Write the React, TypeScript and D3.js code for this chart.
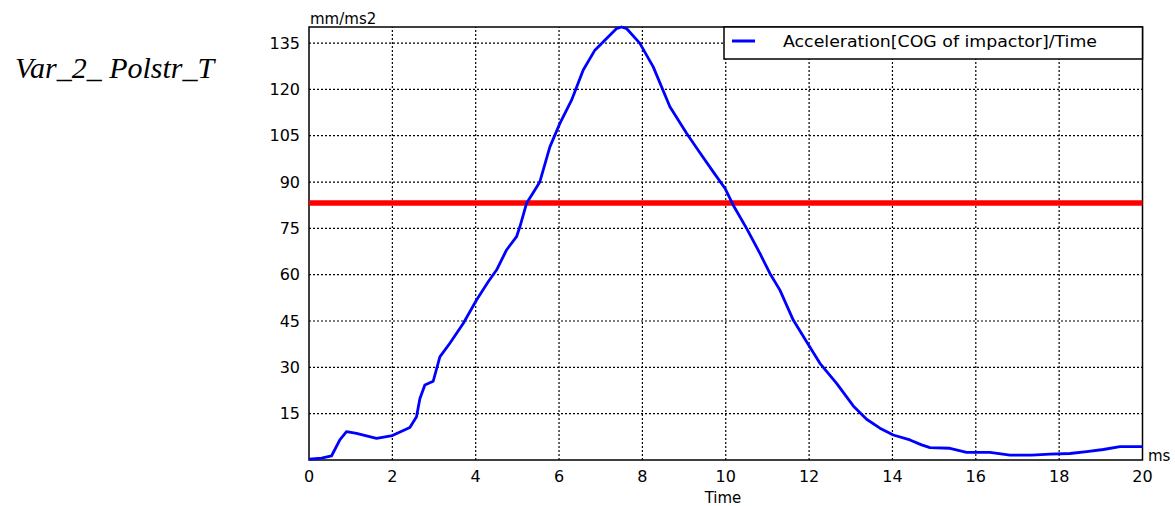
import React from "react";
import * as d3 from "d3";

const timeMs = [0, 0.3, 0.54, 0.74, 0.9, 1.14, 1.62, 2.0, 2.42, 2.58, 2.66, 2.78, 2.98, 3.14, 3.38, 3.7, 4.02, 4.3, 4.5, 4.74, 4.98, 5.06, 5.22, 5.42, 5.54, 5.78, 6.02, 6.3, 6.58, 6.86, 7.14, 7.38, 7.5, 7.62, 7.94, 8.26, 8.66, 9.06, 9.38, 9.7, 9.98, 10.18, 10.5, 10.82, 11.06, 11.3, 11.62, 11.94, 12.26, 12.66, 13.06, 13.38, 13.7, 14.02, 14.42, 14.7, 14.9, 15.38, 15.78, 16.34, 16.82, 17.34, 17.78, 18.26, 18.66, 19.06, 19.46, 20];
const acceleration = [0.3, 0.6, 1.3, 6.5, 9.2, 8.6, 7.0, 7.9, 10.5, 14, 19.8, 24.3, 25.5, 33.4, 37.8, 44.2, 51.8, 57.7, 61.5, 68, 72.3, 75.5, 83.1, 87.4, 90.1, 101.4, 109, 116.5, 126.3, 132.7, 136.5, 139.7, 140.2, 139.7, 134.9, 127.3, 114.4, 105.8, 99.5, 93.3, 88, 82.5, 75, 66.9, 60.4, 55, 45.3, 38.3, 31.3, 24.8, 17.5, 13.2, 10.3, 8.1, 6.5, 4.9, 4.0, 3.8, 2.5, 2.5, 1.6, 1.6, 1.9, 2.1, 2.7, 3.4, 4.3, 4.3];
const thresholdValue = [83.2];
const xTicks = [0, 2, 4, 6, 8, 10, 12, 14, 16, 18, 20];
const yTicks = [15, 30, 45, 60, 75, 90, 105, 120, 135];
const seriesName = "Acceleration[COG of impactor]/Time";
const titleText = "Var_2_ Polstr_T";

export default function App() {
  const x = d3.scaleLinear().domain([0, 20]).range([309, 1142.5]);
  const y = d3.scaleLinear().domain([0, 140.2]).range([460, 27]);
  const pts = timeMs.map((t, i) => [t, acceleration[i]] as [number, number]);
  const line = d3
    .line<[number, number]>()
    .x((d) => x(d[0]))
    .y((d) => y(d[1]));
  const font = "'DejaVu Sans', sans-serif";
  const [x0, x1] = x.range();
  const [yb, yt] = y.range();
  return (
    <svg
      width={1175}
      height={506}
      style={{ position: "absolute", left: 0, top: 0, background: "#fff" }}
    >
      <rect x={0} y={0} width={1175} height={506} fill="#fff" />
      <text
        x={15}
        y={78}
        fontFamily="'Liberation Serif', 'Times New Roman', serif"
        fontStyle="italic"
        fontSize={30}
        fill="#000"
      >
        {titleText}
      </text>
      {/* grid */}
      {xTicks.slice(1, -1).map((t) => (
        <line
          key={"gx" + t}
          x1={x(t)}
          x2={x(t)}
          y1={yb}
          y2={yt}
          stroke="#000"
          strokeWidth={1.2}
          strokeDasharray="2 2"
        />
      ))}
      {yTicks.map((v) => (
        <line
          key={"gy" + v}
          x1={x0}
          x2={x1}
          y1={y(v)}
          y2={y(v)}
          stroke="#000"
          strokeWidth={1.2}
          strokeDasharray="2 2"
        />
      ))}
      {/* frame */}
      <rect
        x={x0}
        y={yt}
        width={x1 - x0}
        height={yb - yt}
        fill="none"
        stroke="#000"
        strokeWidth={1.5}
      />
      {/* threshold */}
      {thresholdValue.map((v) => (
        <line
          key={"th" + v}
          x1={x0}
          x2={x1}
          y1={y(v)}
          y2={y(v)}
          stroke="#ff0000"
          strokeWidth={5.5}
        />
      ))}
      {/* curve */}
      <path d={line(pts) || ""} fill="none" stroke="#0000ff" strokeWidth={2.8} strokeLinejoin="round" />
      {/* y tick labels */}
      {yTicks.map((v) => (
        <text
          key={"yl" + v}
          x={300}
          y={y(v)}
          dy="0.36em"
          textAnchor="end"
          fontFamily={font}
          fontSize={16}
          fill="#000"
        >
          {v}
        </text>
      ))}
      {xTicks.map((t) => (
        <text
          key={"xl" + t}
          x={x(t)}
          y={482}
          textAnchor="middle"
          fontFamily={font}
          fontSize={16}
          fill="#000"
        >
          {t}
        </text>
      ))}
      <text x={310} y={24} fontFamily={font} fontSize={15} fill="#000">
        mm/ms2
      </text>
      <text x={1148} y={461} fontFamily={font} fontSize={15} fill="#000">
        ms
      </text>
      <text x={723} y={503} textAnchor="middle" fontFamily={font} fontSize={15} fill="#000">
        Time
      </text>
      {/* legend */}
      <rect x={724} y={27} width={x1 - 724} height={32} fill="#fff" stroke="#000" strokeWidth={1.5} />
      <line x1={732} x2={755} y1={41} y2={41} stroke="#0000ff" strokeWidth={3} />
      <text
        x={783}
        y={47}
        fontFamily={font}
        fontSize={16}
        fill="#000"
        textLength={314}
        lengthAdjust="spacingAndGlyphs"
      >
        {seriesName}
      </text>
    </svg>
  );
}
